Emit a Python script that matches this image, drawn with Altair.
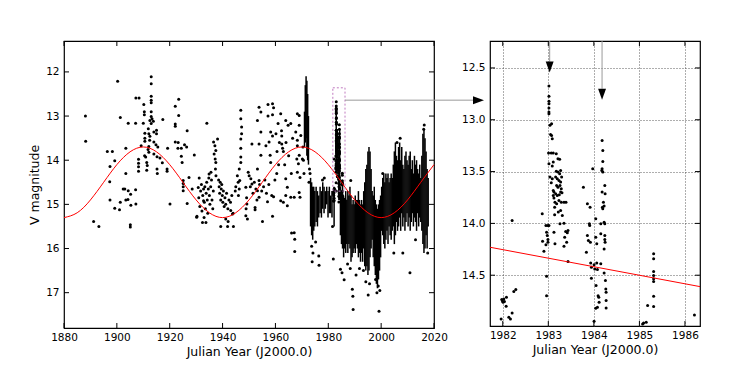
import altair as alt
import pandas as pd

# ---------------- data ----------------
# sparse historical observations (year, V mag)
early_obs = [(1888.1,13.00),(1888.2,13.57),(1891.2,15.39),(1893.2,15.50),(1896.4,13.80),(1898.3,13.80),
(1897.4,14.14),(1899.2,14.01),(1897.3,14.49),(1897.4,14.90),(1899.2,15.09),(1901.0,15.12),(1901.3,14.95),
(1900.3,12.21),(1901.3,13.03),(1903.4,13.73),(1903.4,14.30),(1902.4,14.65),(1903.0,14.65),(1903.4,14.90),
(1904.2,14.89),(1904.3,14.69),(1905.2,14.77),(1905.3,15.02),(1905.1,15.46),(1905.1,15.51),(1907.1,14.67),
(1907.2,14.99),(1904.3,13.16),(1907.1,13.16),(1907.2,12.59),(1908.4,12.59),(1908.2,13.98),(1908.2,14.07),
(1908.2,14.15),(1908.2,14.25),(1909.2,13.67),(1910.0,13.16),(1910.2,12.74),(1910.4,12.90),(1910.4,12.97),
(1910.6,13.39),(1910.6,13.50),(1910.6,13.57),(1910.5,13.90),(1910.9,13.93),(1911.3,14.05),(1911.5,14.12),
(1911.3,14.23),(1911.9,13.29),(1912.1,13.40),(1912.5,13.46),(1912.4,13.55),(1912.1,13.69),(1911.8,13.76),
(1912.1,13.82),(1913.0,12.11),(1913.0,12.27),(1913.0,12.55),(1913.0,12.64),(1913.0,12.70),(1913.0,12.90),
(1913.0,13.01),(1913.3,13.06),(1912.5,13.10),(1913.8,13.12),(1913.0,13.17),(1914.0,13.36),(1915.0,13.32),
(1915.0,13.40),(1914.0,13.59),(1914.8,13.65),(1915.5,13.70),(1914.0,13.86),(1915.2,13.92),(1916.3,13.95),
(1915.2,14.20),(1915.3,14.30),(1917.4,13.08),(1917.2,14.06),(1919.0,14.20),(1919.0,14.25),(1919.2,13.73),
(1920.1,14.99),(1922.1,12.78),(1922.1,13.18),(1922.1,13.23),(1923.4,12.62),(1923.4,12.99),(1923.2,13.60),
(1922.1,13.59),(1923.1,13.73),(1924.4,13.73),(1926.6,13.33),(1925.6,13.65),(1926.4,13.70),(1924.4,13.91),
(1924.7,14.05),(1925.1,14.46),(1925.1,14.53),(1925.1,14.60),(1925.1,14.69),(1927.3,14.39),(1926.6,14.98),
(1928.5,14.65),(1929.3,13.88),(1930.2,15.29)]

mid_obs = [(1931.15,14.40),(1930.3,15.27),(1932.4,15.41),(1933.7,15.41),(1933.0,15.30),(1932.8,14.92),
(1930.8,14.62),(1931.0,14.85),(1931.4,15.05),(1931.7,14.70),(1932.0,14.55),(1932.2,15.15),(1932.5,14.80),
(1932.8,14.65),(1933.1,14.95),(1933.3,14.60),(1933.5,15.10),(1933.8,14.75),(1934.0,14.50),(1934.2,14.90),
(1934.4,15.20),(1934.6,14.65),(1934.8,14.40),(1935.0,14.80),(1935.2,15.00),(1935.5,14.60),(1935.8,14.45),
(1936.0,14.90),(1936.3,15.10),(1936.5,14.70),(1934.05,13.16),(1934.9,14.31),(1935.6,14.27),
(1936.6,13.59),(1937.1,13.67),(1937.45,13.78),(1936.8,13.86),(1937.2,13.97),(1937.45,14.05),(1937.3,14.20),
(1937.5,14.35),(1938.1,13.52),(1938.5,14.45),(1938.7,14.60),(1938.9,14.75),(1939.1,14.50),(1939.3,14.90),
(1939.5,14.65),(1939.7,14.55),(1939.9,14.80),(1940.1,14.95),(1940.3,14.70),(1940.6,15.05),(1940.9,14.85),
(1941.2,15.00),(1941.5,14.75),(1942.0,15.10),(1942.4,14.90),(1943.0,14.95),(1943.5,14.80),(1944.0,15.20),
(1939.3,15.50),(1941.9,15.50),(1944.1,15.50),(1941.2,15.33),(1942.1,15.39),(1943.1,15.14),(1943.75,15.22),
(1945.6,14.35),(1945.9,14.50),(1946.3,14.65),(1945.0,14.60),(1944.8,14.70),(1946.0,14.80),
(1946.9,12.87),(1946.9,13.06),(1947.2,13.25),(1947.2,13.40),(1946.9,13.52),(1946.9,13.73),(1946.9,13.93),
(1946.9,14.05),(1946.3,14.20),(1946.5,14.46),(1948.8,14.61),(1949.2,14.99),(1948.8,15.26),(1949.4,15.33),
(1948.9,15.10),(1949.1,14.85),(1949.7,14.27),(1950.05,14.35),(1950.7,14.42),(1951.1,14.54),(1951.1,13.63),
(1952.3,15.07),(1952.3,15.12),(1953.8,12.80),(1954.5,12.91),(1953.2,13.10),(1954.5,13.36),(1953.8,13.63),
(1954.5,13.89),(1953.2,14.20),(1953.8,14.46),(1953.2,14.69),(1953.8,14.84),(1955.1,15.39),
(1957.2,12.74),(1958.9,12.72),(1959.3,12.81),(1958.9,12.97),(1957.2,13.00),(1958.2,13.36),(1958.9,13.45),
(1957.6,13.59),(1956.4,13.67),(1958.0,13.89),(1958.2,14.05),(1958.6,14.80),(1959.3,14.83),(1957.0,14.94),
(1958.9,15.27),(1950.5,14.60),(1951.5,14.75),(1952.0,14.50),(1952.6,14.65),(1953.0,14.90),(1954.0,14.55),
(1954.8,14.70),(1955.5,14.60),(1956.0,14.45),(1956.6,14.75),(1957.5,14.55),(1959.8,14.45),(1960.5,14.30),
(1960.2,13.40),(1960.6,13.80),(1961.2,14.10),(1961.5,13.60),(1963.5,14.10),(1964.0,13.60),(1965.0,13.90),
(1966.0,14.30),(1966.5,13.50),(1962.0,12.95),(1962.3,13.33),(1962.4,13.45),(1962.4,13.63),(1962.7,13.73),
(1963.0,13.80),(1961.0,13.17),(1963.9,13.10),(1964.8,13.21),(1965.8,13.17),(1963.9,14.42),(1964.5,14.61),
(1962.0,14.92),(1963.0,14.95),(1964.5,15.03),(1963.9,14.80),(1965.8,14.84),(1967.1,14.84),(1966.1,15.65),
(1967.3,16.07),(1968.3,13.55),(1969.0,12.99),(1968.1,13.97),(1968.7,14.08),(1969.0,14.73),
(1968.3,12.95),(1969.0,13.21),(1967.7,13.36),(1969.6,13.44),(1968.3,13.67),(1969.0,13.89),(1970.2,13.97),
(1968.3,14.27),(1969.3,14.39),(1969.3,14.84),(1967.1,15.64),(1967.3,15.79)]

# dense modern observing seasons: (year, brightest, faintest)
season_range = [(1971.0,12.9,13.7),(1971.3,12.3,13.6),(1971.6,12.1,13.5),(1971.9,12.2,13.9),(1972.2,12.5,14.0),
(1972.5,13.0,14.1),(1973.3,14.4,15.5),(1973.7,14.5,15.7),(1974.1,14.6,15.8),(1974.5,14.6,15.6),(1974.9,14.7,15.5),
(1975.4,14.6,15.4),(1975.9,14.7,15.5),(1976.4,14.8,15.3),(1976.9,14.6,15.2),(1977.4,14.7,15.3),(1977.9,14.5,15.1),
(1978.4,14.6,15.2),(1978.9,14.7,15.1),(1979.4,14.6,15.0),(1979.9,14.7,15.3),(1980.4,14.6,15.2),(1980.9,14.8,15.2),
(1981.4,14.7,15.3),(1982.2,14.6,15.5),(1983.0,12.8,14.2),(1983.3,13.3,14.4),(1984.0,13.5,14.9),(1984.3,13.3,14.9),
(1984.6,14.6,15.7),(1985.0,14.7,15.9),(1985.4,14.5,16.0),(1985.8,14.8,16.2),(1986.2,14.9,16.0),(1986.6,14.7,16.1),
(1987.0,14.9,15.9),(1987.4,14.7,16.1),(1987.8,14.8,15.9),(1988.2,14.6,16.0),(1988.6,14.8,16.3),(1989.0,15.0,16.2),
(1989.4,14.9,16.1),(1989.8,15.0,16.0),(1990.2,14.8,16.1),(1990.6,14.9,15.9),(1991.0,14.9,16.0),(1991.4,14.7,16.2),
(1991.8,14.9,16.1),(1992.2,15.0,16.3),(1992.6,14.9,16.1),(1993.0,15.0,16.3),(1993.4,14.7,16.0),(1993.8,14.5,16.4),
(1994.2,14.2,16.5),(1994.6,14.1,16.4),(1995.0,13.8,16.6),(1995.4,13.7,16.5),(1995.8,13.8,16.2),(1996.2,14.2,16.0),
(1996.6,14.7,15.8),(1997.0,14.8,16.2),(1997.4,14.6,16.4),(1997.8,14.9,16.6),(1998.2,15.0,16.8),(1998.6,15.1,16.9),
(1999.0,15.0,16.7),(1999.4,14.9,16.5),(1999.8,14.8,16.2),(2000.2,14.6,15.6),(2000.6,14.4,15.7),(2001.0,14.3,15.9),
(2001.4,14.5,16.0),(2001.8,14.3,15.8),(2002.2,14.4,15.6),(2002.6,14.3,15.9),(2003.0,14.5,15.5),(2003.4,14.4,15.7),
(2003.8,14.3,15.8),(2004.2,14.4,15.6),(2004.6,14.1,15.5),(2005.0,13.8,15.9),(2005.4,13.6,15.7),(2005.8,13.9,15.4),
(2006.2,14.0,15.6),(2006.6,13.7,15.5),(2007.0,13.6,15.3),(2007.4,14.0,15.6),(2007.8,13.7,15.2),(2008.2,14.1,15.5),
(2008.6,14.2,15.3),(2009.0,13.9,15.6),(2009.4,13.8,15.4),(2009.8,14.0,15.2),(2010.2,14.1,15.5),(2010.6,13.9,15.3),
(2011.0,13.8,15.6),(2011.4,14.2,15.4),(2011.8,14.0,15.2),(2012.2,14.3,15.5),(2012.6,13.9,15.3),(2013.0,14.1,15.4),
(2013.4,14.0,15.6),(2013.8,14.2,15.2),(2014.2,14.3,15.5),(2014.6,14.1,15.3),(2015.0,14.4,15.4),(2015.4,13.9,15.6),
(2015.8,13.4,15.9),(2016.2,13.3,16.1),(2016.6,13.5,16.0),(2017.0,13.8,15.7),(2017.4,14.2,16.0),(2017.8,14.4,15.5)]

late_obs = [(1970.4,13.70),(1970.6,14.00),(1970.8,14.30),(1972.9,14.20),(1972.7,14.50),(1973.1,14.30),
(1973.7,15.95),(1974.2,16.10),(1975.2,15.85),(1976.4,16.17),(1976.5,16.38),(1973.9,16.30),(1981.6,15.50),
(1981.9,16.24),(1978.5,14.40),(1977.8,14.45),(1984.6,16.47),(1986.0,16.71),(1985.2,16.55),(1988.5,14.46),
(1987.3,16.35),(1988.3,16.45),(1990.5,16.60),(1991.8,16.45),(1989.1,16.92),(1989.3,17.08),(1989.4,17.38),
(1993.3,16.50),(1994.2,16.75),(1995.1,17.05),(1995.6,16.80),(1997.9,16.70),(1998.4,17.00),(1998.9,16.85),
(1999.2,17.42),(1999.5,16.95),(2000.6,14.30),(2004.8,16.10),(2006.0,13.60),(2007.2,13.50),(2010.9,16.55),
(2008.2,16.10),(2013.0,15.80),(2017.6,16.10),(2016.3,13.20),(2016.1,13.30)]

# 1982-1986 detail
zoom_obs = [(1981.964,14.922),(1981.978,14.735),(1981.993,14.748),(1982.008,14.761),(1982.037,14.754),
(1982.022,14.729),(1982.081,14.713),(1982.074,14.800),(1982.133,14.906),(1982.169,14.922),(1982.206,14.864),
(1982.206,13.972),(1982.243,14.658),(1982.287,14.639),
(1982.867,13.907),(1982.874,14.172),(1982.904,14.268),(1982.962,14.510),(1982.962,14.697),(1982.948,14.020),
(1982.962,14.085),(1982.977,14.117),(1982.992,14.155),(1982.948,14.207),(1982.992,14.181),(1982.992,14.020),
(1983.014,14.020),(1983.014,12.674),(1983.014,12.774),(1983.014,12.822),(1983.014,12.845),(1983.014,12.887),
(1983.014,12.925),(1983.014,12.941),(1983.036,13.054),(1983.072,13.038),(1983.050,13.141),(1983.072,13.151),
(1983.087,13.183),(1983.006,13.321),(1983.065,13.321),(1983.109,13.321),(1983.014,13.424),(1983.109,13.408),
(1983.087,13.447),(1983.036,13.553),(1983.087,13.569),(1983.065,13.608),(1983.109,13.682),(1983.124,13.698),
(1983.109,13.730),(1983.124,13.756),(1983.146,13.795),(1983.139,13.843),(1983.139,13.917),(1983.124,14.085),
(1983.146,14.197),(1983.175,13.328),(1983.212,13.376),(1983.249,13.382),(1983.175,13.498),(1983.212,13.505),
(1983.249,13.521),(1983.271,13.489),(1983.161,13.553),(1983.197,13.569),(1983.234,13.585),(1983.271,13.601),
(1983.293,13.553),(1983.183,13.634),(1983.212,13.650),(1983.256,13.634),(1983.285,13.666),(1983.161,13.714),
(1983.197,13.730),(1983.241,13.724),(1983.271,13.698),(1983.300,13.705),(1983.183,13.811),(1983.234,13.779),
(1983.219,13.891),(1983.271,13.875),(1983.256,14.004),(1983.285,13.795),(1983.344,13.795),(1983.388,13.795),
(1983.307,13.924),(1983.344,13.998),(1983.359,14.133),(1983.381,14.078),(1983.417,14.091),(1983.432,14.068),
(1983.403,14.181),(1983.344,14.220),(1983.432,14.368),
(1983.770,13.650),(1983.836,14.278),(1983.858,13.811),(1983.858,14.117),(1983.880,14.165),(1983.917,13.843),
(1983.909,14.020),(1983.902,14.004),(1983.924,14.181),(1983.931,14.381),(1983.946,14.423),(1983.946,14.529),
(1983.975,13.473),(1984.005,14.945),(1984.020,14.439),(1984.005,14.400),(1984.042,13.956),(1984.042,14.133),
(1984.049,14.600),(1984.064,14.197),(1984.042,14.819),(1984.078,14.809),(1984.064,14.381),(1984.078,14.445),
(1984.093,14.697),(1984.108,14.713),(1984.115,14.761),(1984.152,14.004),(1984.152,14.101),(1984.152,14.390),
(1984.181,13.199),(1984.196,13.296),(1984.196,13.402),(1984.181,13.473),(1984.196,13.505),(1984.174,13.489),
(1984.181,13.698),(1984.188,13.843),(1984.196,13.859),(1984.210,13.795),(1984.225,13.833),(1984.225,13.988),
(1984.240,14.004),(1984.240,14.117),(1984.240,14.155),(1984.247,14.181),(1984.225,14.246),(1984.240,13.634),
(1984.247,13.714),(1984.225,14.478),(1984.254,14.552),(1984.262,14.632),(1984.269,14.664),(1984.269,14.745),
(1984.269,14.816),
(1985.070,14.970),(1985.092,14.961),(1985.150,14.954),(1985.180,14.793),(1985.312,14.294),(1985.312,14.342),
(1985.312,14.465),(1985.312,14.503),(1985.312,14.535),(1985.312,14.561),(1985.312,14.703),(1985.312,14.803),
(1986.208,14.883)]

# red model curve
curve_year = [1880,1885,1890,1895,1900,1905,1910,1915,1920,1925,1930,1935,1940,1945,1950,
              1955,1960,1965,1970,1975,1980,1985,1990,1995,2000,2005,2010,2015,2020]
curve_mag = [15.30,15.19,14.90,14.50,14.10,13.81,13.70,13.81,14.10,14.50,14.90,15.19,15.30,15.19,14.90,
             14.50,14.10,13.81,13.70,13.81,14.10,14.50,14.90,15.19,15.30,15.19,14.90,14.50,14.10]
zoom_curve_year = [1981.72, 1986.33]
zoom_curve_mag = [14.23, 14.61]

# zoom box and arrows
box = {"x": 1981.72, "x2": 1986.33, "y": 12.36, "y2": 14.70}
connector = {"x": 1986.33, "y": 12.64}
arrow_year = [1983.03, 1984.18]
arrow_top = [12.44, 12.70]
arrow_head = [12.49, 12.755]

left_xticks = [1880, 1900, 1920, 1940, 1960, 1980, 2000, 2020]
left_yticks = [12, 13, 14, 15, 16, 17]
right_xticks = [1982, 1983, 1984, 1985, 1986]
right_yticks = [12.5, 13.0, 13.5, 14.0, 14.5]

# ---------------- chart ----------------
FONT = "DejaVu Sans"
LW, LH = 370, 287
RW, RH = 210, 285

pts = pd.DataFrame(early_obs + mid_obs + late_obs + zoom_obs, columns=["x", "y"])
seas = pd.DataFrame(season_range, columns=["x", "y", "y2"])
curve = pd.DataFrame({"x": curve_year, "y": curve_mag})
zpts = pd.DataFrame(zoom_obs, columns=["x", "y"])
zcurve = pd.DataFrame({"x": zoom_curve_year, "y": zoom_curve_mag})

lsx = alt.Scale(domain=[1880, 2020], nice=False, zero=False)
lsy = alt.Scale(domain=[11.3, 17.8], reverse=True, nice=False, zero=False)
lax = alt.Axis(values=left_xticks, format="d", title="Julian Year (J2000.0)", tickSize=0, domain=False,
               grid=False, labelPadding=4, titlePadding=3, labelFlush=False)
lay = alt.Axis(values=left_yticks, format="d", title="V magnitude", tickSize=0, domain=False,
               grid=False, labelPadding=5, titlePadding=4, labelFlush=False)
LX = alt.X("x:Q", scale=lsx, axis=lax)
LY = alt.Y("y:Q", scale=lsy, axis=lay)

l_curve = alt.Chart(curve).mark_line(color="red", strokeWidth=1, interpolate="natural").encode(x=LX, y=LY)
l_seas = alt.Chart(seas).mark_rule(color="black", strokeWidth=1.5).encode(x=LX, y=LY, y2="y2:Q")
l_pts = alt.Chart(pts).mark_circle(color="black", size=9, opacity=1).encode(x=LX, y=LY)
l_box = alt.Chart(pd.DataFrame([box])).mark_rect(fillOpacity=0, stroke="#c07ac0", strokeWidth=1,
        strokeDash=[2, 2]).encode(x=LX, x2="x2:Q", y=LY, y2="y2:Q")
con = pd.DataFrame([connector])
l_con = alt.Chart(con).mark_rule(color="#999999", strokeWidth=1).encode(x=LX, x2=alt.value(410), y=LY)
l_head = alt.Chart(con).mark_point(shape="M-1,-0.72L-1,0.72L1,0Z", size=121, filled=True,
        color="black", opacity=1).encode(x=alt.value(414.5), y=LY)

def ticks_x(vals, h, chx):
    d = pd.DataFrame({"x": vals})
    a = alt.Chart(d).mark_rule(color="black", strokeWidth=1).encode(x=chx, y=alt.value(h), y2=alt.value(h - 5))
    b = alt.Chart(d).mark_rule(color="black", strokeWidth=1).encode(x=chx, y=alt.value(0), y2=alt.value(5))
    return [a, b]

def ticks_y(vals, w, chy):
    d = pd.DataFrame({"y": vals})
    a = alt.Chart(d).mark_rule(color="black", strokeWidth=1).encode(y=chy, x=alt.value(0), x2=alt.value(5))
    b = alt.Chart(d).mark_rule(color="black", strokeWidth=1).encode(y=chy, x=alt.value(w), x2=alt.value(w - 5))
    return [a, b]

left = alt.layer(l_seas, l_pts, l_curve, l_box, l_con, l_head,
                 *ticks_x(left_xticks, LH, LX), *ticks_y(left_yticks, LW, LY)).properties(width=LW, height=LH)

rsx = alt.Scale(domain=[1981.72, 1986.33], nice=False, zero=False)
rsy = alt.Scale(domain=[12.24, 14.99], reverse=True, nice=False, zero=False)
rax = alt.Axis(values=right_xticks, format="d", title="Julian Year (J2000.0)", tickSize=0, domain=False,
               grid=True, gridColor="#333333", gridDash=[1, 2], gridWidth=0.8, labelPadding=4, titlePadding=3,
               labelFlush=False)
ray = alt.Axis(values=right_yticks, format=".1f", title=None, tickSize=0, domain=False,
               grid=True, gridColor="#333333", gridDash=[1, 2], gridWidth=0.8, labelPadding=5, labelFlush=False)
RX = alt.X("x:Q", scale=rsx, axis=rax)
RY = alt.Y("y:Q", scale=rsy, axis=ray)

r_curve = alt.Chart(zcurve).mark_line(color="red", strokeWidth=1, clip=True).encode(x=RX, y=RY)
r_pts = alt.Chart(zpts).mark_circle(color="black", size=9, opacity=1, clip=True).encode(x=RX, y=RY)
arr = pd.DataFrame({"x": arrow_year, "y": arrow_top, "yh": arrow_head})
r_arr = alt.Chart(arr).mark_rule(color="#999999", strokeWidth=1).encode(x=RX, y=RY, y2=alt.value(0))
r_head = alt.Chart(arr).mark_point(shape="M-0.72,-1L0.72,-1L0,1Z", size=121, filled=True,
        color="black", opacity=1).encode(x=RX, y=alt.Y("yh:Q", scale=rsy, axis=ray))

right = alt.layer(r_pts, r_curve, r_arr, r_head,
                  *ticks_x(right_xticks, RH, RX), *ticks_y(right_yticks, RW, RY)).properties(width=RW, height=RH)

chart = alt.hconcat(left, right, spacing=56, bounds="flush").properties(
    padding={"top": 31, "left": 20, "right": 5, "bottom": 5}, background="white"
).configure_view(stroke="black", strokeWidth=1.2).configure_axis(
    labelFont=FONT, titleFont=FONT, labelFontSize=10.5, titleFontSize=12.5, titleFontWeight="normal",
    labelColor="black", titleColor="black"
)

chart.save("out.html", embed_options={"renderer": "svg", "actions": False})
